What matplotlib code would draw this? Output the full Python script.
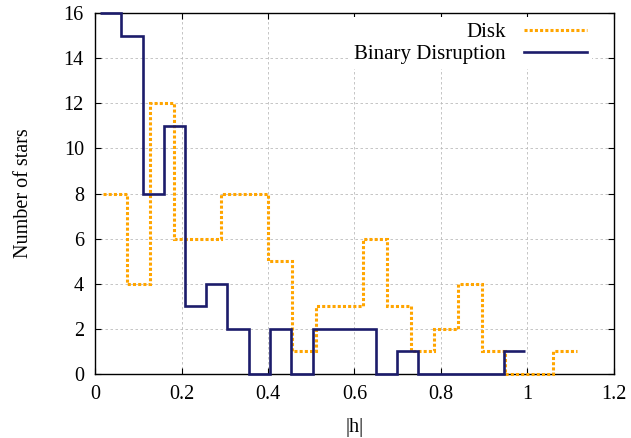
import matplotlib
matplotlib.use("Agg")
import matplotlib.pyplot as plt

plt.rcParams["font.family"] = ["Liberation Serif", "DejaVu Serif"]

# bin edges and counts
disk_edges = [0.018, 0.073, 0.127, 0.182, 0.237, 0.292, 0.346, 0.401, 0.456, 0.511,
              0.566, 0.620, 0.675, 0.730, 0.785, 0.840, 0.894, 0.949, 1.004, 1.059, 1.114]
disk_counts = [8, 4, 12, 6, 6, 8, 8, 5, 1, 3, 3, 6, 3, 1, 2, 4, 1, 0, 0, 1]

binary_edges = [0.012, 0.061, 0.110, 0.159, 0.208, 0.257, 0.306, 0.355, 0.404, 0.453,
                0.503, 0.552, 0.601, 0.650, 0.699, 0.748, 0.797, 0.846, 0.896, 0.945, 0.994]
binary_counts = [16, 15, 8, 11, 3, 4, 2, 0, 2, 0, 2, 2, 2, 0, 1, 0, 0, 0, 0, 1]

x_ticks = [0, 0.2, 0.4, 0.6, 0.8, 1.0, 1.2]
x_ticklabels = ["0", "0.2", "0.4", "0.6", "0.8", "1", "1.2"]
y_ticks = [0, 2, 4, 6, 8, 10, 12, 14, 16]

fig = plt.figure(figsize=(6.31, 4.38), dpi=100)
ax = fig.add_axes([0.1506, 0.146, 0.8224, 0.824])

ax.stairs(disk_counts, disk_edges, baseline=None, color="#FFA500", lw=2.2,
          linestyle=(0, (1, 0.7)), label="Disk", clip_on=False, zorder=3)
ax.stairs(binary_counts, binary_edges, baseline=None, color="#1C1C6B", lw=1.9,
          label="Binary Disruption", clip_on=False, zorder=4)

ax.set_xlim(0, 1.2)
ax.set_ylim(0, 16)
ax.set_xticks(x_ticks)
ax.set_xticklabels(x_ticklabels)
ax.set_yticks(y_ticks)
ax.tick_params(direction="in", length=4, width=0.8, labelsize=14.5, pad=8,
               top=True, right=True)
ax.grid(True, color="#BBBBBB", lw=0.6, linestyle=(0, (3, 3)))
ax.set_axisbelow(True)
for s in ax.spines.values():
    s.set_linewidth(1.0)

ax.set_xlabel("|h|", fontsize=14.5, labelpad=10)
ax.set_ylabel("Number of stars", fontsize=14.5, labelpad=22)

leg = ax.legend(loc="upper right", bbox_to_anchor=(0.962, 0.995), markerfirst=False,
                fontsize=15, handlelength=3.0, handletextpad=0.9, labelspacing=0.12,
                borderaxespad=0.1, borderpad=0.25, frameon=True, fancybox=False,
                framealpha=1.0)
leg.get_frame().set_edgecolor("none")
leg.get_frame().set_facecolor("white")

fig.savefig("out.png", dpi=100)
